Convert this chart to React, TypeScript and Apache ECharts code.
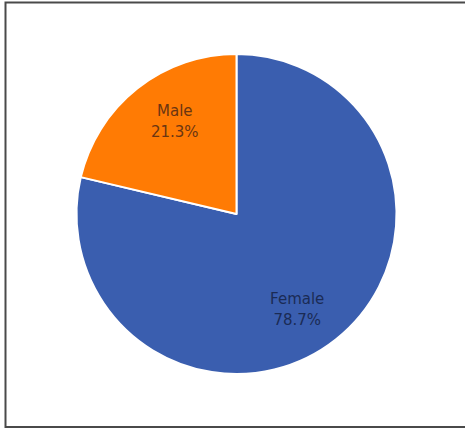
import React, { useEffect, useRef } from "react";
import * as echarts from "echarts";

const categories: string[] = ["Female", "Male"];
const values: number[] = [78.7, 21.3];
const sliceColors: string[] = ["#3A5EAF", "#FF7B04"];
const labelColors: string[] = ["#1B2B55", "#6A3512"];
const labelNudges: number[][] = [[-10, 6], [9, -3]];

export default function App() {
  const ref = useRef<HTMLDivElement>(null);
  useEffect(() => {
    if (!ref.current) return;
    const chart = echarts.init(ref.current, undefined, { renderer: "svg" });
    const data = categories.map((name, i) => ({
      name,
      value: values[i],
      itemStyle: { color: sliceColors[i] },
      label: { color: labelColors[i] },
    }));
    chart.setOption({
      animation: false,
      backgroundColor: "#ffffff",
      graphic: [
        {
          type: "rect",
          shape: { x: 5.5, y: 2.5, width: 470, height: 424.5 },
          style: { fill: "none", stroke: "#4a4a4a", lineWidth: 2 },
          silent: true,
        },
      ],
      series: [
        {
          type: "pie",
          center: [236.5, 214],
          radius: [0, 160],
          startAngle: 90,
          clockwise: true,
          silent: true,
          itemStyle: { borderColor: "#ffffff", borderWidth: 2 },
          label: { show: false },
          labelLine: { show: false },
          data,
        },
        {
          type: "pie",
          center: [236.5, 214],
          radius: [62, 160],
          startAngle: 90,
          clockwise: true,
          silent: true,
          z: 3,
          itemStyle: { color: "transparent", borderWidth: 0 },
          label: {
            show: true,
            position: "inside",
            formatter: (p: any) => `${p.name}\n${p.value.toFixed(1)}%`,
            fontFamily: "DejaVu Sans, Verdana, sans-serif",
            fontSize: 15,
            lineHeight: 21,
          },
          labelLayout: (p: any) => ({
            dx: labelNudges[p.dataIndex][0],
            dy: labelNudges[p.dataIndex][1],
          }),
          labelLine: { show: false },
          data: data.map((d) => ({
            ...d,
            itemStyle: { color: "transparent" },
          })),
        },
      ],
    });
    return () => chart.dispose();
  }, []);
  return (
    <div
      ref={ref}
      style={{ position: "fixed", left: 0, top: 0, width: 465, height: 429 }}
    />
  );
}
